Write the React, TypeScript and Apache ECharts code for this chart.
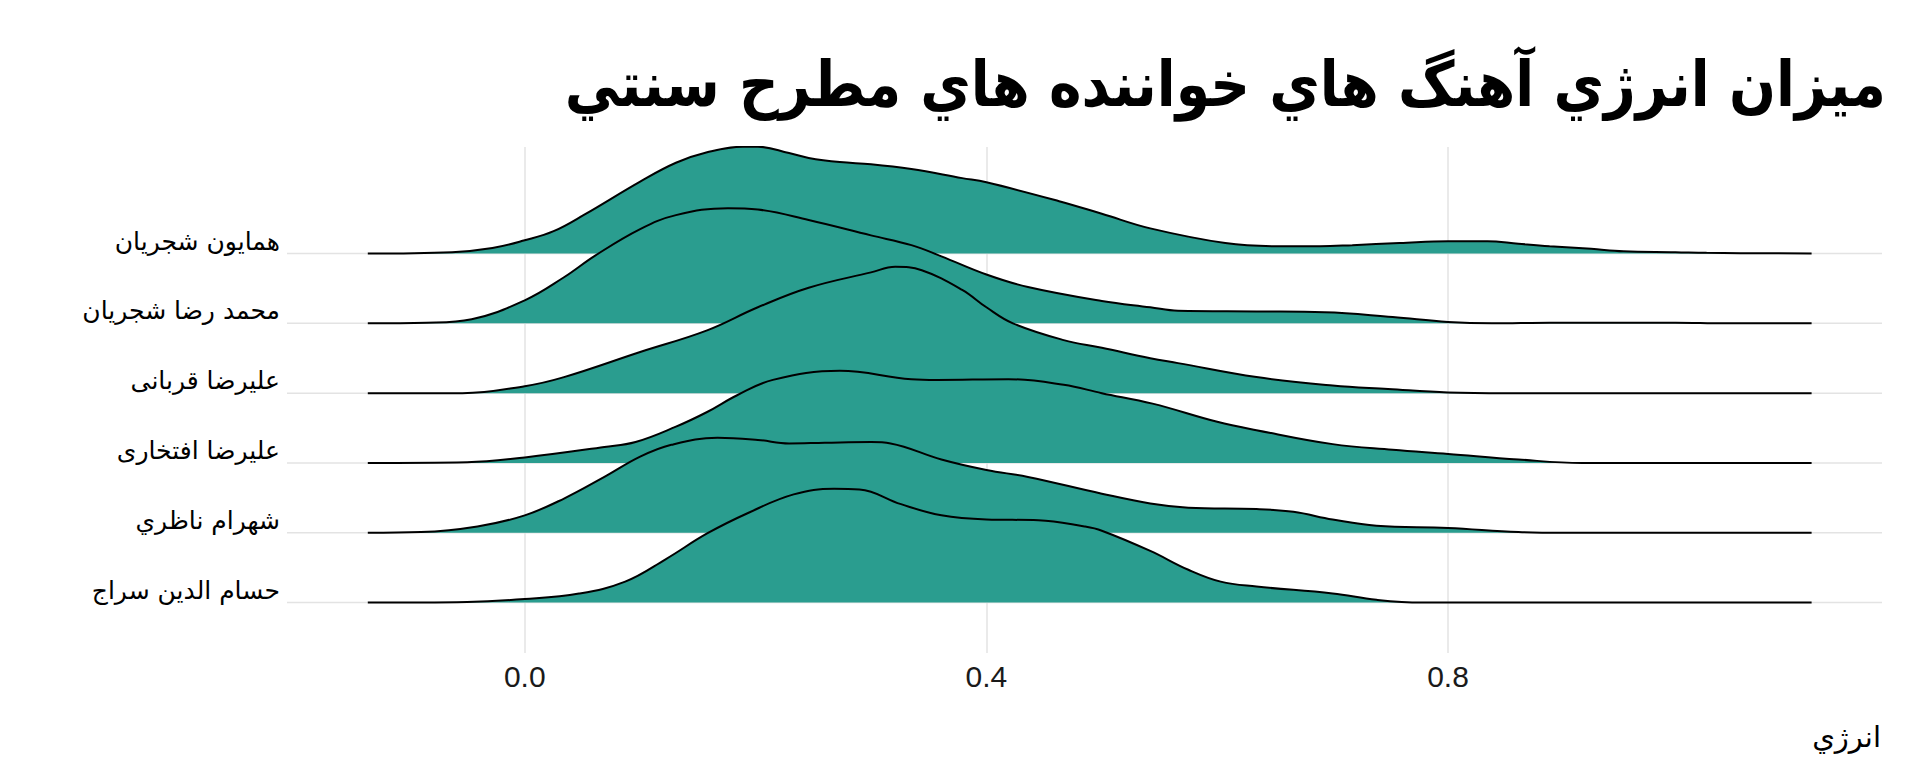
import React, { useEffect, useRef } from 'react';
import * as echarts from 'echarts';

// Artists, top row to bottom row
const artists = [
  'همايون شجريان',
  'محمد رضا شجريان',
  'عليرضا قربانى',
  'عليرضا افتخارى',
  'شهرام ناظري',
  'حسام الدين سراج',
];

const titleText = 'ميزان انرژي آهنگ هاي خواننده هاي مطرح سنتي';
const xAxisTitle = 'انرژي';
const energyTicks = [0, 0.4, 0.8];

// [energy, ridge height (in row spacings)]
const ridgeHomayoun = [
  [-0.136, 0], [-0.063, 0.02], [-0.028, 0.08], [0, 0.19], [0.025, 0.32], [0.052, 0.56],
  [0.1, 1.03], [0.131, 1.3], [0.158, 1.45], [0.189, 1.53], [0.202, 1.53], [0.229, 1.44],
  [0.246, 1.37], [0.273, 1.31], [0.3, 1.28], [0.335, 1.21], [0.379, 1.08], [0.4, 1.02],
  [0.463, 0.75], [0.5, 0.57], [0.542, 0.36], [0.607, 0.15], [0.652, 0.105], [0.689, 0.105],
  [0.717, 0.12], [0.758, 0.15], [0.8, 0.177], [0.834, 0.177], [0.861, 0.14], [0.888, 0.105],
  [0.924, 0.067], [0.952, 0.033], [0.997, 0.02], [1.024, 0.01], [1.115, 0],
];
const ridgeMohammadReza = [
  [-0.136, 0], [-0.085, 0.01], [-0.046, 0.06], [0, 0.33], [0.034, 0.66], [0.061, 0.97],
  [0.1, 1.35], [0.131, 1.55], [0.176, 1.65], [0.202, 1.63], [0.246, 1.48], [0.3, 1.26],
  [0.335, 1.12], [0.361, 0.96], [0.4, 0.7], [0.436, 0.52], [0.5, 0.32], [0.542, 0.23],
  [0.566, 0.18], [0.634, 0.17], [0.693, 0.16], [0.752, 0.09], [0.8, 0.02], [0.838, 0],
  [0.888, 0.01], [0.997, 0.01], [1.04, 0], [1.115, 0],
];
const ridgeGhorbani = [
  [-0.136, 0], [-0.054, 0], [0, 0.1], [0.034, 0.23], [0.1, 0.59], [0.158, 0.9],
  [0.202, 1.23], [0.246, 1.51], [0.3, 1.73], [0.321, 1.81], [0.344, 1.76], [0.379, 1.48],
  [0.4, 1.23], [0.423, 1.0], [0.467, 0.76], [0.5, 0.65], [0.542, 0.5], [0.566, 0.43],
  [0.634, 0.23], [0.7, 0.11], [0.748, 0.06], [0.8, 0.01], [0.85, 0], [1.115, 0],
];
const ridgeEftekhari = [
  [-0.136, 0], [-0.05, 0.01], [0, 0.08], [0.069, 0.23], [0.096, 0.3], [0.131, 0.52],
  [0.158, 0.73], [0.184, 0.97], [0.215, 1.19], [0.273, 1.32], [0.335, 1.2], [0.357, 1.19],
  [0.419, 1.2], [0.467, 1.12], [0.5, 1.0], [0.544, 0.85], [0.6, 0.59], [0.634, 0.47],
  [0.7, 0.27], [0.752, 0.19], [0.8, 0.13], [0.861, 0.05], [0.916, 0], [1.115, 0],
];
const ridgeNazeri = [
  [-0.136, 0], [-0.09, 0.01], [-0.041, 0.09], [0, 0.25], [0.034, 0.49], [0.069, 0.8],
  [0.1, 1.09], [0.127, 1.26], [0.167, 1.36], [0.202, 1.33], [0.229, 1.28], [0.26, 1.29],
  [0.3, 1.3], [0.317, 1.28], [0.361, 1.05], [0.4, 0.9], [0.436, 0.8], [0.5, 0.56],
  [0.542, 0.42], [0.575, 0.36], [0.634, 0.34], [0.666, 0.3], [0.7, 0.19], [0.738, 0.1],
  [0.8, 0.07], [0.861, 0.01], [0.9, 0], [1.115, 0],
];
const ridgeSeraj = [
  [-0.136, 0], [-0.05, 0.01], [0, 0.05], [0.047, 0.13], [0.087, 0.3], [0.122, 0.62],
  [0.158, 0.99], [0.193, 1.28], [0.233, 1.55], [0.268, 1.63], [0.29, 1.62], [0.326, 1.41],
  [0.361, 1.25], [0.4, 1.19], [0.445, 1.18], [0.485, 1.09], [0.5, 1.03], [0.542, 0.74],
  [0.575, 0.47], [0.603, 0.3], [0.634, 0.23], [0.7, 0.13], [0.738, 0.04], [0.777, 0],
  [1.115, 0],
];

const ridges = [ridgeHomayoun, ridgeMohammadReza, ridgeGhorbani, ridgeEftekhari, ridgeNazeri, ridgeSeraj];

const X_MIN = -0.206;
const X_MAX = 1.176;
const Y_MIN = -0.722;
const Y_MAX = 6.526;

export default function App() {
  const ref = useRef<HTMLDivElement>(null);

  useEffect(() => {
    if (!ref.current) return;
    const chart = echarts.init(ref.current, null, { renderer: 'svg' });
    const n = artists.length;
    const series: any[] = [];

    artists.forEach((name, i) => {
      const k = n - 1 - i;
      series.push({
        type: 'line',
        name: 'baseline-' + i,
        silent: true,
        symbol: 'none',
        z: 1,
        data: [[X_MIN, k], [X_MAX, k]],
        lineStyle: { color: '#e3e3e3', width: 1.5 },
        markLine:
          i === 0
            ? {
                silent: true,
                z: 1,
                symbol: 'none',
                label: { show: false },
                lineStyle: { color: '#e3e3e3', width: 1.5, type: 'solid' },
                data: energyTicks.map((v) => ({ xAxis: v })),
              }
            : undefined,
      });
    });

    ridges.forEach((pts, i) => {
      const k = n - 1 - i;
      series.push({
        type: 'line',
        name: artists[i],
        smooth: 0.4,
        symbol: 'none',
        z: 10 + i,
        data: pts.map(([x, h]) => [x, k + h]),
        lineStyle: { color: '#000000', width: 2 },
        areaStyle: { color: '#2a9d8f', opacity: 1, origin: k },
      });
    });

    chart.setOption({
      animation: false,
      backgroundColor: '#ffffff',
      graphic: [
        {
          type: 'text',
          x: 1886,
          y: 84,
          scaleX: 0.876,
          silent: true,
          style: {
            text: titleText,
            font: 'bold 63px "DejaVu Sans"',
            fill: '#000000',
            align: 'right',
            verticalAlign: 'middle',
          },
        },
        {
          type: 'text',
          x: 1881,
          y: 737,
          silent: true,
          style: {
            text: xAxisTitle,
            font: '29px "DejaVu Sans"',
            fill: '#000000',
            align: 'right',
            verticalAlign: 'middle',
          },
        },
      ],
      grid: { left: 287, right: 38, top: 147, bottom: 115, containLabel: false },
      xAxis: {
        type: 'value',
        min: X_MIN,
        max: X_MAX,
        axisLine: { show: false },
        axisTick: { show: false, customValues: energyTicks },
        splitLine: { show: false },
        axisLabel: {
          customValues: energyTicks,
          formatter: (v: number) => v.toFixed(1),
          fontFamily: 'Liberation Sans',
          fontSize: 30,
          color: '#1a1a1a',
          margin: 8,
        },
      },
      yAxis: {
        type: 'value',
        min: Y_MIN,
        max: Y_MAX,
        axisLine: { show: false },
        axisTick: { show: false, customValues: [0, 1, 2, 3, 4, 5] },
        splitLine: { show: false },
        axisLabel: {
          customValues: [0, 1, 2, 3, 4, 5],
          formatter: (v: number) => artists[n - 1 - Math.round(v)] ?? '',
          fontFamily: 'DejaVu Sans',
          fontSize: 25,
          color: '#000000',
          margin: 7,
          verticalAlign: 'bottom',
        },
      },
      series,
    });

    return () => chart.dispose();
  }, []);

  return (
    <div
      ref={ref}
      style={{ position: 'absolute', left: 0, top: 0, width: 1920, height: 768 }}
    />
  );
}
